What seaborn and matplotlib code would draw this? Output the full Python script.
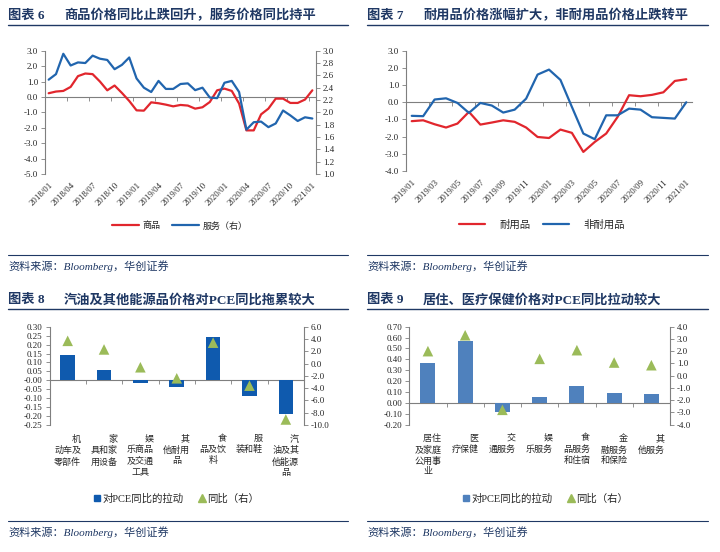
import numpy as np
import pandas as pd
import matplotlib
matplotlib.use("Agg")
import matplotlib.pyplot as plt
import seaborn as sns
from matplotlib.lines import Line2D

# ==================================================
# DATA
# ==================================================

months6 = pd.date_range("2018-01-01", periods=37, freq="MS").strftime("%Y/%m").tolist()

goods = [0.24, 0.35, 0.39, 0.65, 1.35, 1.52, 1.48, 1.00, 0.43, 0.74,
         0.26, -0.26, -0.87, -0.89, -0.35, -0.41, -0.50, -0.61, -0.52, -0.56,
         -0.76, -0.67, -0.33, 0.43, 0.54, 0.39, -0.43, -2.17, -2.17, -1.13,
         -0.76, -0.11, -0.11, -0.39, -0.39, -0.17, 0.43]

services = [2.53, 2.62, 2.95, 2.76, 2.81, 2.80, 2.92, 2.87, 2.85, 2.70,
            2.77, 2.89, 2.55, 2.40, 2.33, 2.51, 2.38, 2.38, 2.46, 2.47,
            2.36, 2.40, 2.24, 2.23, 2.48, 2.51, 2.33, 1.72, 1.84, 1.85,
            1.76, 1.82, 2.03, 1.95, 1.86, 1.92, 1.90]

months7 = pd.date_range("2019-01-01", periods=25, freq="MS").strftime("%Y/%m").tolist()

durable = [-1.10, -1.05, -1.28, -1.47, -1.24, -0.56, -1.30, -1.18, -1.05, -1.14,
           -1.47, -2.02, -2.08, -1.59, -1.78, -2.89, -2.31, -1.82, -0.85, 0.41,
           0.35, 0.43, 0.58, 1.24, 1.34]

nondurable = [-0.79, -0.81, 0.16, 0.23, -0.04, -0.62, -0.04, -0.19, -0.60, -0.43,
              0.21, 1.61, 1.90, 1.30, -0.27, -1.82, -2.15, -0.76, -0.76, -0.37,
              -0.43, -0.87, -0.91, -0.95, 0.00]

labels8 = ["\u3000\u3000机\n动车及\n零部件", "\u3000\u3000家\n具和家\n用设备",
           "\u3000\u3000娱\n乐商品\n及交通\n工具", "\u3000\u3000其\n他耐用\n品",
           "\u3000\u3000食\n品及饮\n料", "\u3000\u3000服\n装和鞋",
           "\u3000\u3000汽\n油及其\n他能源\n品"]
pull8 = [0.14, 0.057, -0.015, -0.035, 0.245, -0.09, -0.19]
yoy8 = [3.7, 2.3, -0.6, -2.4, 3.4, -3.6, -9.1]

labels9 = ["\u3000居住\n及家庭\n公用事\n业", "\u3000\u3000医\n疗保健",
           "\u3000\u3000交\n通服务", "\u3000\u3000娱\n乐服务",
           "\u3000\u3000食\n品服务\n和住宿", "\u3000\u3000金\n融服务\n和保险",
           "\u3000\u3000其\n他服务"]
pull9 = [0.37, 0.57, -0.085, 0.054, 0.154, 0.094, 0.085]
yoy9 = [2.0, 3.3, -2.8, 1.37, 2.08, 1.07, 0.85]

# ==================================================
# STYLE
# ==================================================

sns.set_style("white")
plt.rcParams["font.family"] = ["Liberation Serif", "Noto Sans CJK SC", "DejaVu Sans"]
plt.rcParams["axes.unicode_minus"] = False

W, H = 720, 552
NAVY = "#1F3864"
GRAY = "#7F7F7F"
RED = "#E1262D"
BLUE = "#2165AE"
BAR8 = "#0F5AAE"
BAR9 = "#4F81BD"
GREEN = "#9BBB59"

fig = plt.figure(figsize=(7.2, 5.52), dpi=100)


def px_box(x0, y0, x1, y1):
    return [x0 / W, 1 - y1 / H, (x1 - x0) / W, (y1 - y0) / H]


def hline(x0, x1, y, lw=1.0):
    fig.add_artist(Line2D([x0 / W, x1 / W], [1 - y / H, 1 - y / H],
                          color=NAVY, lw=lw, transform=fig.transFigure))


def header(x0, x1, y, num, title):
    fig.text(x0 / W, 1 - y / H, f"图表 {num}", fontsize=9.5,
             fontweight="bold", color=NAVY, va="center")
    fig.text((x0 + 56) / W, 1 - y / H, title, fontsize=9.5,
             fontweight="bold", color=NAVY, va="center")
    hline(x0, x1, y + 9)


def source(x0, x1, y):
    hline(x0, x1, y - 11, lw=0.8)
    fig.text(x0 / W, 1 - y / H, "资料来源：Bloomberg，华创证券", fontsize=8,
             style="italic", color=NAVY, va="center")


def style_axes(ax, side="left"):
    for s in ["top", "bottom", "left", "right"]:
        ax.spines[s].set_visible(s == side)
    ax.spines[side].set_color(GRAY)
    ax.spines[side].set_linewidth(0.8)
    ax.tick_params(axis="y", direction="out", length=3, width=0.6,
                   color=GRAY, labelsize=6.5, pad=2,
                   left=(side == "left"), right=(side == "right"))


def set_yaxis(ax, ticks, fmt):
    ax.set_ylim(ticks[0], ticks[-1])
    ax.set_yticks(ticks)
    ax.set_yticklabels([fmt.format(t) for t in ticks])


def zero_axis(ax, ticks):
    lo, hi = ax.get_ylim()
    sec = ax.secondary_xaxis((0 - lo) / (hi - lo))
    sec.set_alignment("bottom")
    sec.set_xticks(ticks)
    sec.tick_params(axis="x", direction="out", length=3, width=0.6,
                    color=GRAY, labelbottom=False, bottom=True)
    sec.spines["bottom"].set_color(GRAY)
    sec.spines["bottom"].set_linewidth(0.8)


# ==================================================
# CHART 6
# ==================================================

header(8, 348, 15.5, 6, "商品价格同比止跌回升，服务价格同比持平")

idx6 = np.arange(len(months6))
ax6 = fig.add_axes(px_box(45, 50.7, 316, 174))
ax6b = ax6.twinx()

sns.lineplot(x=idx6, y=goods, color=RED, lw=1.6, ax=ax6)
sns.lineplot(x=idx6, y=services, color=BLUE, lw=1.6, ax=ax6b)

style_axes(ax6, "left")
style_axes(ax6b, "right")
set_yaxis(ax6, np.arange(-5, 4, 1.0), "{:.1f}")
set_yaxis(ax6b, np.round(np.arange(1.0, 3.01, 0.2), 1), "{:.1f}")
ax6.set_xlim(-0.5, len(months6) - 0.5)
ax6.set_xticks(idx6[::3])
ax6.set_xticklabels(months6[::3], rotation=45, ha="right",
                    rotation_mode="anchor", fontsize=6.3)
ax6.tick_params(axis="x", length=0, pad=5)
zero_axis(ax6, np.arange(3, len(months6) + 1, 3) - 0.5)

fig.legend([Line2D([], [], color=RED, lw=1.6), Line2D([], [], color=BLUE, lw=1.6)],
           ["商品", "服务（右）"], loc="center",
           bbox_to_anchor=(180 / W, 1 - 226 / H), ncol=2, frameon=False,
           fontsize=6.5, handlelength=2.9, handletextpad=0.45, columnspacing=1.3)

source(8, 348, 266)

# ==================================================
# CHART 7
# ==================================================

header(367, 708, 15.5, 7, "耐用品价格涨幅扩大，非耐用品价格止跌转平")

idx7 = np.arange(len(months7))
ax7 = fig.add_axes(px_box(406, 50.7, 692, 171))

sns.lineplot(x=idx7, y=durable, color=RED, lw=1.6, ax=ax7)
sns.lineplot(x=idx7, y=nondurable, color=BLUE, lw=1.6, ax=ax7)

style_axes(ax7, "left")
set_yaxis(ax7, np.arange(-4, 4, 1.0), "{:.1f}")
ax7.set_xlim(-0.5, len(months7) - 0.5)
ax7.set_xticks(idx7[::2])
ax7.set_xticklabels(months7[::2], rotation=45, ha="right",
                    rotation_mode="anchor", fontsize=6.3)
ax7.tick_params(axis="x", length=0, pad=5)
zero_axis(ax7, np.arange(2, len(months7) + 1, 2) - 0.5)

fig.legend([Line2D([], [], color=RED, lw=1.6), Line2D([], [], color=BLUE, lw=1.6)],
           ["耐用品", "非耐用品"], loc="center",
           bbox_to_anchor=(542 / W, 1 - 225 / H), ncol=2, frameon=False,
           fontsize=7.5, handlelength=2.5, handletextpad=1.4, columnspacing=1.2)

source(367, 708, 266)

# ==================================================
# CHART 8
# ==================================================

header(8, 348, 300, 8, "汽油及其他能源品价格对PCE同比拖累较大")

ax8 = fig.add_axes(px_box(49.5, 326.7, 304, 425))
ax8b = ax8.twinx()

sns.barplot(x=labels8, y=pull8, color=BAR8, width=0.4, saturation=1,
            errorbar=None, linewidth=0, ax=ax8)
sns.scatterplot(x=np.arange(len(yoy8)), y=yoy8, marker="^", s=58,
                color=GREEN, edgecolor="none", legend=False, ax=ax8b, zorder=5)

style_axes(ax8, "left")
style_axes(ax8b, "right")
set_yaxis(ax8, np.round(np.arange(-0.25, 0.31, 0.05), 2), "{:.2f}")
set_yaxis(ax8b, np.arange(-10, 7, 2.0), "{:.1f}")
ax8.set_xlim(-0.5, len(labels8) - 0.5)
ax8.tick_params(axis="x", length=0, pad=7, labelsize=6.5)
for lbl in ax8.get_xticklabels():
    lbl.set_linespacing(1.35)
zero_axis(ax8, np.arange(1, len(labels8)) - 0.5)

fig.legend([Line2D([], [], marker="s", ls="none", color=BAR8, markersize=4.5),
            Line2D([], [], marker="^", ls="none", color=GREEN, markersize=5.5)],
           ["对PCE同比的拉动", "同比（右）"], loc="center",
           bbox_to_anchor=(176 / W, 1 - 499 / H), ncol=2, frameon=False,
           fontsize=7.5, handlelength=0.8, handletextpad=0.1, columnspacing=1.4)

source(8, 348, 532)

# ==================================================
# CHART 9
# ==================================================

header(367, 708, 300, 9, "居住、医疗保健价格对PCE同比拉动较大")

ax9 = fig.add_axes(px_box(409.3, 326.7, 670, 424.5))
ax9b = ax9.twinx()

sns.barplot(x=labels9, y=pull9, color=BAR9, width=0.4, saturation=1,
            errorbar=None, linewidth=0, ax=ax9)
sns.scatterplot(x=np.arange(len(yoy9)), y=yoy9, marker="^", s=58,
                color=GREEN, edgecolor="none", legend=False, ax=ax9b, zorder=5)

style_axes(ax9, "left")
style_axes(ax9b, "right")
set_yaxis(ax9, np.round(np.arange(-0.2, 0.71, 0.1), 2), "{:.2f}")
set_yaxis(ax9b, np.arange(-4, 5, 1.0), "{:.1f}")
ax9.set_xlim(-0.5, len(labels9) - 0.5)
ax9.tick_params(axis="x", length=0, pad=7, labelsize=6.5)
for lbl in ax9.get_xticklabels():
    lbl.set_linespacing(1.35)
zero_axis(ax9, np.arange(1, len(labels9)) - 0.5)

fig.legend([Line2D([], [], marker="s", ls="none", color=BAR9, markersize=4.5),
            Line2D([], [], marker="^", ls="none", color=GREEN, markersize=5.5)],
           ["对PCE同比的拉动", "同比（右）"], loc="center",
           bbox_to_anchor=(545 / W, 1 - 499 / H), ncol=2, frameon=False,
           fontsize=7.5, handlelength=0.8, handletextpad=0.1, columnspacing=1.4)

source(367, 708, 532)

plt.savefig("out.png", dpi=100)
